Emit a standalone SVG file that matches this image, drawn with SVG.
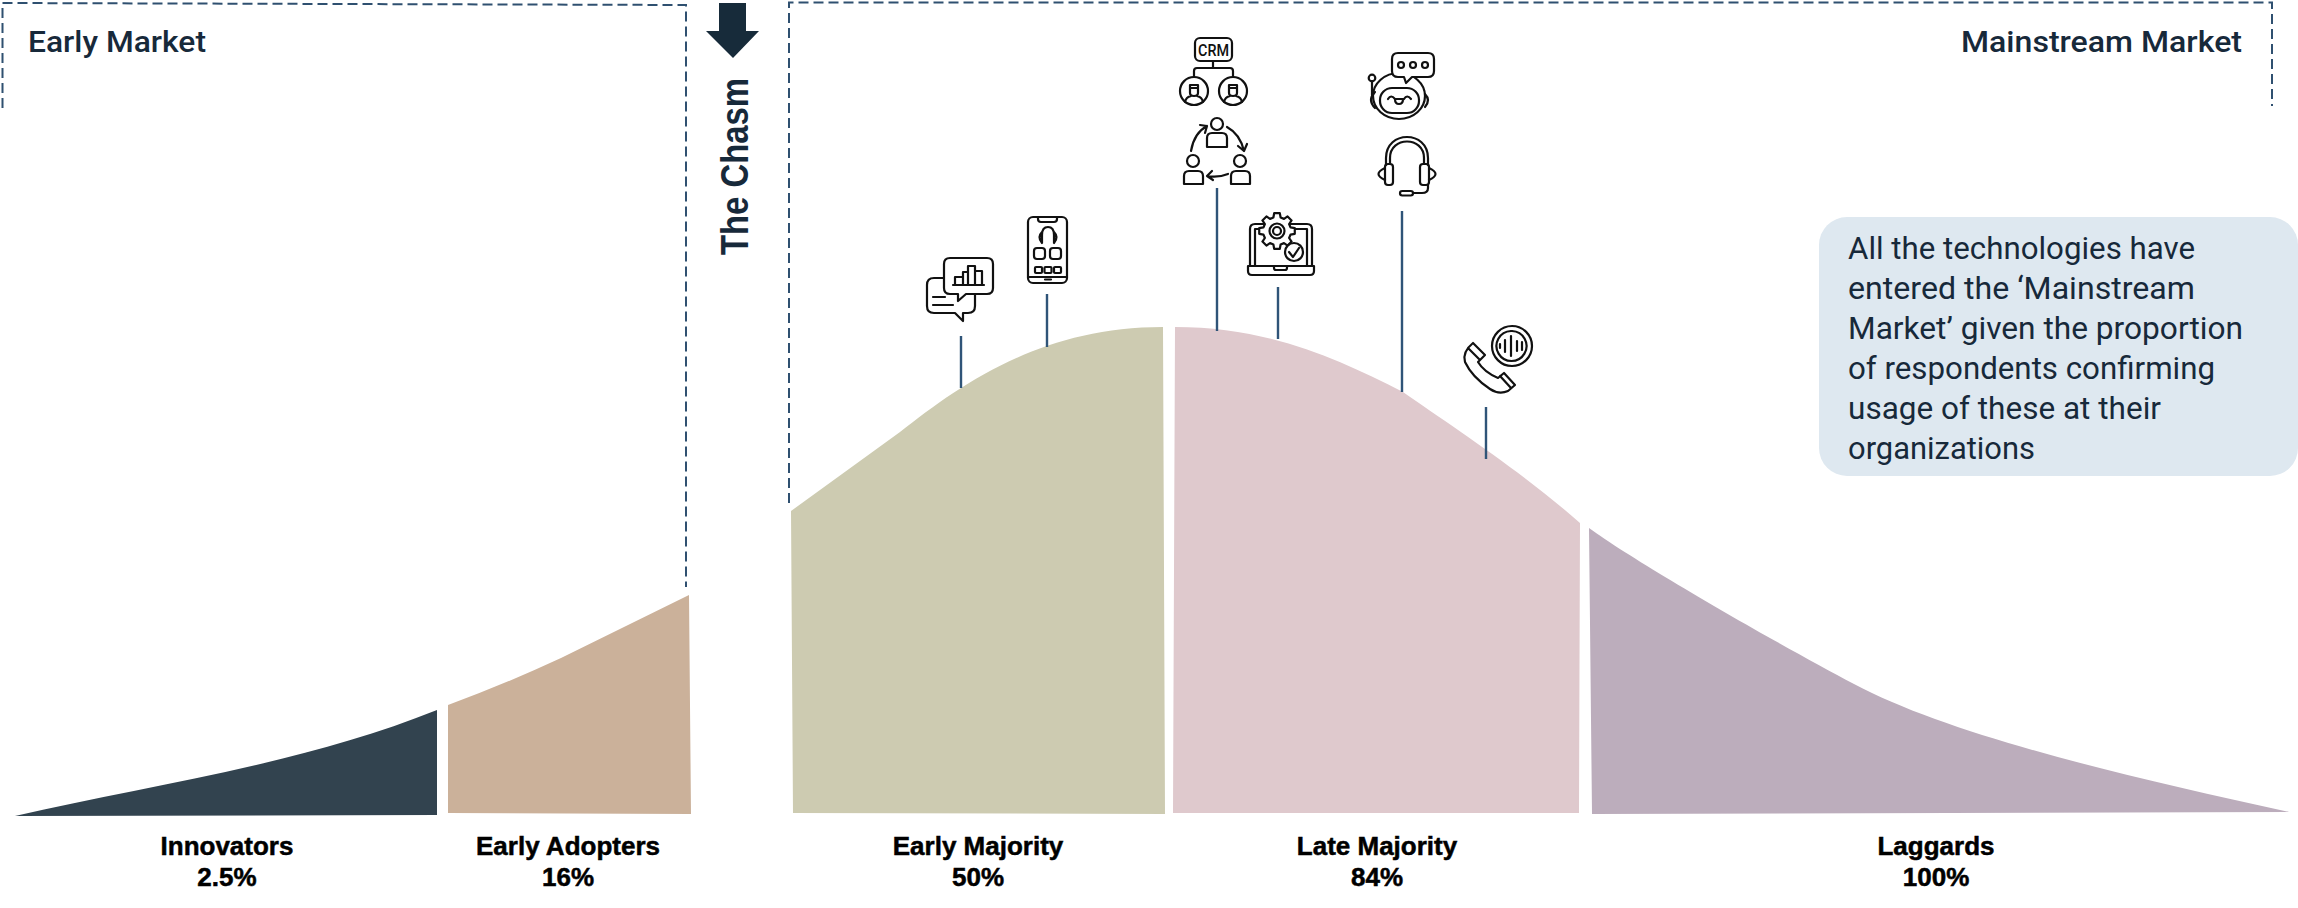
<svg xmlns="http://www.w3.org/2000/svg" width="2298" height="908" viewBox="0 0 2298 908">
<style>
.dash{fill:none;stroke:#2F5070;stroke-width:2;stroke-dasharray:10 5}
.conn{stroke:#2F5478;stroke-width:2.4;fill:none}
.ic{fill:none;stroke:#111;stroke-width:2.2;stroke-linecap:round;stroke-linejoin:round}
.wf{fill:#fff}
.head{font-family:Roboto,"Liberation Sans",sans-serif;font-weight:500;font-size:30px;fill:#17293A}
.lab{font-family:"Liberation Sans",Arial,sans-serif;font-weight:700;font-size:26px;fill:#000;stroke:#000;stroke-width:.5px;text-anchor:middle}
.note{font-family:Roboto,"Liberation Sans",sans-serif;font-weight:400;font-size:31px;fill:#17293A}
</style>
<rect width="2298" height="908" fill="#fff"/>
<g id="market-bounds">
<path class="dash" d="M2.500 108V3L686 5V587"/>
<path class="dash" d="M789 503V2.500H2272V106"/>
</g>
<g id="early-market-label"><text class="head" x="28" y="52" textLength="178" lengthAdjust="spacingAndGlyphs">Early Market</text></g>
<g id="mainstream-market-label"><text class="head" x="1961" y="52" textLength="281" lengthAdjust="spacingAndGlyphs">Mainstream Market</text></g>
<g id="chasm">
<path d="M719 3H746V31H759L733 58L706 31H719Z" fill="#172B3A"/>
<text transform="translate(748 255) rotate(-90)" font-family="Liberation Sans,Arial,sans-serif" font-weight="700" font-size="38" fill="#17293A" textLength="177" lengthAdjust="spacingAndGlyphs">The Chasm</text>
</g>
<g id="innovators">
<path d="M15 816C150 785 300 765 437 710V815Z" fill="#32434F"/>
<text class="lab" x="227" y="855">Innovators</text><text class="lab" x="227" y="886">2.5%</text>
</g>
<g id="early-adopters">
<path d="M448 705Q505 684 561 658L689 595L691 814L448 813Z" fill="#CBB19A"/>
<text class="lab" x="568" y="855">Early Adopters</text><text class="lab" x="568" y="886">16%</text>
</g>
<g id="early-majority">
<path d="M791 511L900 432C960 385 1040 327 1163 327L1165 814L793 813Z" fill="#CDCBB1"/>
<text class="lab" x="978" y="855">Early Majority</text><text class="lab" x="978" y="886">50%</text>
</g>
<g id="late-majority">
<path d="M1175 327C1270 327 1340 360 1403 392C1450 425 1520 470 1580 523L1579 813L1173 813Z" fill="#DFC9CD"/>
<text class="lab" x="1377" y="855">Late Majority</text><text class="lab" x="1377" y="886">84%</text>
</g>
<g id="laggards">
<path d="M1589 528C1640 565 1780 645 1854 684C1950 735 2120 775 2289 812L1592 814Z" fill="#BCADBC"/>
<text class="lab" x="1936" y="855">Laggards</text><text class="lab" x="1936" y="886">100%</text>
</g>
<g id="connectors">
<path class="conn" d="M961 336V388M1047 294V347M1217 188V331M1278 287V339M1402 211V392M1486 407V459"/>
</g>
<g id="icon-chat-chart" class="ic">
<path d="M944 278H934Q927 278 927 285V306Q927 313 934 313H955L963 321V313H968Q975 313 975 306V294"/>
<path class="wf" d="M950 258H987Q993 258 993 264V288Q993 294 987 294H966L958 301V294H950Q944 294 944 288V264Q944 258 950 258Z"/>
<path d="M955 285V277H963M963 285V272H968M968 285V266H975V285M975 271H982V285M953 285H984M933 297H945M933 305H953"/>
</g>
<g id="icon-phone-app" class="ic">
<rect x="1028" y="217" width="39" height="66" rx="5"/>
<path d="M1038 217V219Q1038 222 1041 222H1054Q1057 222 1057 219V217M1028 277H1067M1045 279.500H1051"/>
<path d="M1042 243V235Q1042 227 1048 227Q1054 227 1054 235V243M1042 232Q1037 237 1042 243M1054 232Q1059 237 1054 243"/>
<rect x="1034" y="248" width="11" height="11" rx="3"/><rect x="1050" y="248" width="11" height="11" rx="3"/>
<rect x="1035" y="267" width="7" height="6" rx="1"/><rect x="1044.500" y="267" width="7" height="6" rx="1"/><rect x="1054" y="267" width="7" height="6" rx="1"/>
</g>
<g id="icon-crm" class="ic">
<rect x="1195" y="38" width="37" height="23" rx="5"/>
<text x="1198" y="56" font-family="Roboto,Liberation Sans,sans-serif" font-weight="500" font-size="17" fill="#111" stroke="none" textLength="31" lengthAdjust="spacingAndGlyphs">CRM</text>
<path d="M1213 61V68M1194 77V71Q1194 68 1197 68H1230Q1233 68 1233 71V77"/>
<circle cx="1194" cy="91" r="14"/><circle cx="1233" cy="91" r="14"/>
<path d="M1190 85H1198V93Q1198 96 1194 96Q1190 96 1190 93ZM1185 102Q1186 97 1191 96M1203 102Q1202 97 1197 96M1190 88H1198"/>
<path d="M1229 85H1237V93Q1237 96 1233 96Q1229 96 1229 93ZM1224 102Q1225 97 1230 96M1242 102Q1241 97 1236 96M1229 88H1237"/>
</g>
<g id="icon-team-cycle" class="ic">
<circle cx="1217" cy="124" r="6"/><path d="M1207 147V138Q1207 133 1212 133H1222Q1227 133 1227 138V147Z"/>
<circle cx="1193" cy="161" r="6"/><path d="M1184 184V176Q1184 171 1189 171H1198Q1203 171 1203 176V184Z"/>
<circle cx="1240" cy="161" r="6"/><path d="M1231 184V176Q1231 171 1236 171H1245Q1250 171 1250 176V184Z"/>
<path d="M1191 151Q1194 133 1207 126M1200 125L1207 126L1205 133"/>
<path d="M1227 127Q1240 134 1244 151M1238 146L1244 151L1247 144"/>
<path d="M1228 174Q1218 178 1207 176M1212 171L1207 176L1213 180"/>
</g>
<g id="icon-laptop" class="ic">
<path d="M1250 266V229Q1250 224 1255 224H1307Q1312 224 1312 229V266M1255 266V229H1307V266"/>
<path d="M1248 266H1314V271Q1314 275 1310 275H1252Q1248 275 1248 271ZM1274 266V268Q1274 270 1276 270H1285Q1287 270 1287 268V266"/>
<path class="wf" transform="translate(1277 231)" d="M13.520 -3.620L17.780 -2.820V2.820L13.520 3.620L12.120 7L14.560 10.580L10.580 14.560L7 12.120L3.620 13.520L2.820 17.780H-2.820L-3.620 13.520L-7 12.120L-10.580 14.560L-14.560 10.580L-12.120 7L-13.520 3.620L-17.780 2.820V-2.820L-13.520 -3.620L-12.120 -7L-14.560 -10.580L-10.580 -14.560L-7 -12.120L-3.620 -13.520L-2.820 -17.780H2.820L3.620 -13.520L7 -12.120L10.580 -14.560L14.560 -10.580L12.120 -7Z"/>
<circle cx="1277" cy="231" r="7.500"/><circle cx="1277" cy="231" r="4"/>
<circle class="wf" cx="1294" cy="252" r="9"/><path d="M1289 252L1293 257L1299 248"/>
</g>
<g id="icon-robot" class="ic">
<ellipse cx="1399" cy="96" rx="26" ry="23"/>
<rect x="1380" y="88" width="39" height="25" rx="12"/>
<path d="M1375 92Q1367 100 1375 108M1425 94Q1431 100 1425 107M1372 81V95"/>
<circle cx="1372" cy="78" r="3.300"/>
<path d="M1388 99Q1391 94 1395 99M1404 99Q1407 94 1411 99M1395 99H1403Q1403 104 1399 104Q1395 104 1395 99Z"/>
<path class="wf" d="M1398 53H1428Q1434 53 1434 59V71Q1434 77 1428 77H1412L1406 83L1404 77H1398Q1392 77 1392 71V59Q1392 53 1398 53Z"/>
<circle cx="1401" cy="65" r="3"/><circle cx="1413" cy="65" r="3"/><circle cx="1425" cy="65" r="3"/>
</g>
<g id="icon-headset" class="ic">
<path d="M1386 165V158C1386 130 1428 130 1428 158V165M1390 163V158C1390 136 1424 136 1424 158V163"/>
<rect x="1385" y="164" width="8" height="21" rx="3"/><rect x="1420" y="164" width="9" height="21" rx="3"/>
<path d="M1385 168Q1372 174 1385 180M1429 168Q1442 174 1429 180M1428 185V188Q1428 193 1422 193H1413"/>
<rect x="1400" y="191" width="13" height="4.500" rx="2.200"/>
</g>
<g id="icon-voice-call" class="ic">
<circle cx="1512" cy="346" r="20"/><path d="M1512 331A15 15 0 1 1 1511 331"/>
<path d="M1500 344V348M1505 340V352M1511 336V356M1517 341V351M1522 342V350"/>
<path d="M1473 343L1485 355L1478 362Q1484 372 1498 378L1504 373L1515 385L1508 391Q1499 395 1490 389Q1472 377 1465 362Q1462 352 1473 343ZM1468 348L1480 360M1500 376L1511 388"/>
</g>
<g id="note">
<rect x="1819" y="217" width="479" height="259" rx="28" fill="#DEE8F0"/>
<text class="note" x="1848" y="259" textLength="347" lengthAdjust="spacingAndGlyphs">All the technologies have</text>
<text class="note" x="1848" y="299" textLength="347" lengthAdjust="spacingAndGlyphs">entered the ‘Mainstream</text>
<text class="note" x="1848" y="339" textLength="395" lengthAdjust="spacingAndGlyphs">Market’ given the proportion</text>
<text class="note" x="1848" y="379" textLength="367" lengthAdjust="spacingAndGlyphs">of respondents confirming</text>
<text class="note" x="1848" y="419" textLength="313" lengthAdjust="spacingAndGlyphs">usage of these at their</text>
<text class="note" x="1848" y="459" textLength="187" lengthAdjust="spacingAndGlyphs">organizations</text>
</g>
</svg>
